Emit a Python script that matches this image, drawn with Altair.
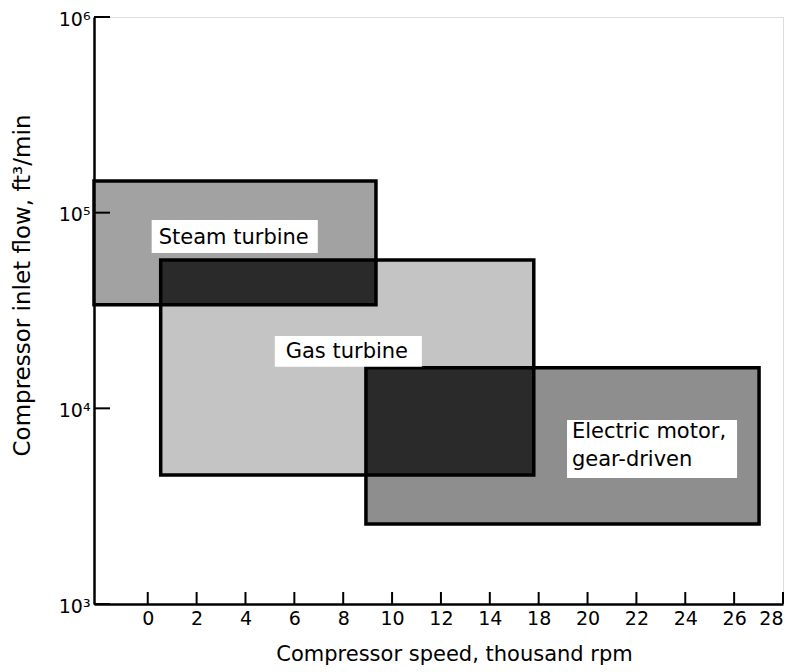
import altair as alt
import pandas as pd

# Drive regions (x in axis-position units, y in ft3/min)
drives = ["Steam turbine", "Gas turbine", "Electric motor, gear-driven"]
x_start = [-2.2, 0.53, 8.93]
x_end = [9.34, 15.8, 25.02]
flow_low = [33800, 4560, 2560]
flow_high = [145000, 57300, 16100]
fills = ["#a2a2a2", "#c4c4c4", "#8e8e8e"]

# label boxes
label_text = ["Steam turbine", "Gas turbine", "Electric motor,\ngear-driven"]
label_x = [3.52, 8.15, 17.36]
label_y = [74300, 19400, 7570]
label_align = ["center", "center", "left"]
box_x1 = [0.16, 5.2, 17.16]
box_x2 = [6.96, 11.22, 24.12]
box_y1 = [62200, 16300, 4400]
box_y2 = [91800, 23400, 8710]

x_ticks = [0, 2, 4, 6, 8, 10, 12, 14, 16, 18, 20, 22, 24, 26]
y_ticks = [1000, 10000, 100000, 1000000]

W, H = 689, 587
FONT = "DejaVu Sans"

regions = pd.DataFrame({"drive": drives, "x1": x_start, "x2": x_end,
                        "y1": flow_low, "y2": flow_high, "fill": fills})

# overlaps computed from the regions
ov = []
for i in range(3):
    for j in range(i + 1, 3):
        a, b = regions.iloc[i], regions.iloc[j]
        x1, x2 = max(a.x1, b.x1), min(a.x2, b.x2)
        y1, y2 = max(a.y1, b.y1), min(a.y2, b.y2)
        if x1 < x2 and y1 < y2:
            ov.append({"x1": x1, "x2": x2, "y1": y1, "y2": y2})
overlaps = pd.DataFrame(ov)

labels = pd.DataFrame({"text": label_text, "x": label_x, "y": label_y, "align": label_align,
                       "bx1": box_x1, "bx2": box_x2, "by1": box_y1, "by2": box_y2})

xs = alt.Scale(domain=[-2.2, 26], nice=False, zero=False)
ys = alt.Scale(type="log", domain=[1000, 1000000], nice=False)

x_axis = alt.Axis(values=x_ticks, ticks=False, grid=False,
                  labelExpr="datum.value >= 16 ? datum.value + 2 : datum.value",
                  title="Compressor speed, thousand rpm", labelFontSize=19,
                  titleFontSize=21, titleFontWeight="normal", labelPadding=5,
                  titleX=360, titleY=50, titleBaseline="middle", titleAlign="center",
                  domainColor="black", domainWidth=2.5,
                  labelColor="black", titleColor="black", labelFont=FONT, titleFont=FONT)
y_axis = alt.Axis(values=y_ticks, ticks=False, grid=False,
                  labelExpr="'10' + (datum.value == 1000 ? '³' : datum.value == 10000 ? '⁴' : datum.value == 100000 ? '⁵' : '⁶')",
                  title="Compressor inlet flow, ft³/min", labelFontSize=19,
                  titleFontSize=23, titleFontWeight="normal", labelPadding=4, labelOffset=2,
                  titleX=-72, titleY=268, titleBaseline="middle", titleAlign="center", titleAngle=270,
                  domainColor="black", domainWidth=2.5,
                  labelColor="black", titleColor="black", labelFont=FONT, titleFont=FONT)

base_fill = alt.Chart(regions).mark_rect(strokeWidth=0).encode(
    x=alt.X("x1:Q", scale=xs, axis=x_axis), x2="x2:Q",
    y=alt.Y("y1:Q", scale=ys, axis=y_axis), y2="y2:Q",
    fill=alt.Fill("fill:N", scale=None))

over = alt.Chart(overlaps).mark_rect(fill="#2a2a2a", strokeWidth=0).encode(
    x=alt.X("x1:Q", scale=xs), x2="x2:Q", y=alt.Y("y1:Q", scale=ys), y2="y2:Q")

outline = alt.Chart(regions).mark_rect(fillOpacity=0, stroke="black", strokeWidth=3.5).encode(
    x=alt.X("x1:Q", scale=xs), x2="x2:Q", y=alt.Y("y1:Q", scale=ys), y2="y2:Q")

boxes = alt.Chart(labels).mark_rect(fill="white", strokeWidth=0).encode(
    x=alt.X("bx1:Q", scale=xs), x2="bx2:Q", y=alt.Y("by1:Q", scale=ys), y2="by2:Q")

txt_c = alt.Chart(labels[labels["align"] == "center"]).mark_text(
    font=FONT, fontSize=21, color="black", align="center", baseline="middle").encode(
    x=alt.X("x:Q", scale=xs), y=alt.Y("y:Q", scale=ys), text="text:N")

txt_l = alt.Chart(labels[labels["align"] == "left"]).mark_text(
    font=FONT, fontSize=21, color="black", align="left", baseline="middle",
    lineBreak="\n", lineHeight=28).encode(
    x=alt.X("x:Q", scale=xs), y=alt.Y("y:Q", scale=ys), text="text:N")

xt = alt.Chart(pd.DataFrame({"t": x_ticks})).mark_rule(color="black", strokeWidth=2).encode(
    x=alt.X("t:Q", scale=xs), y=alt.value(H - 12), y2=alt.value(H))

yt = alt.Chart(pd.DataFrame({"t": y_ticks})).mark_rule(color="black", strokeWidth=2).encode(
    y=alt.Y("t:Q", scale=ys), x=alt.value(0), x2=alt.value(16))

chart = alt.layer(base_fill, over, outline, boxes, txt_c, txt_l, xt, yt).properties(
    width=W, height=H, autosize=alt.AutoSizeParams(type="none"),
    padding={"left": 86, "top": 9, "right": 8, "bottom": 66}
).configure_view(stroke=None).configure(background="white")

chart.save("out.html", embed_options={"renderer": "svg", "actions": False})
